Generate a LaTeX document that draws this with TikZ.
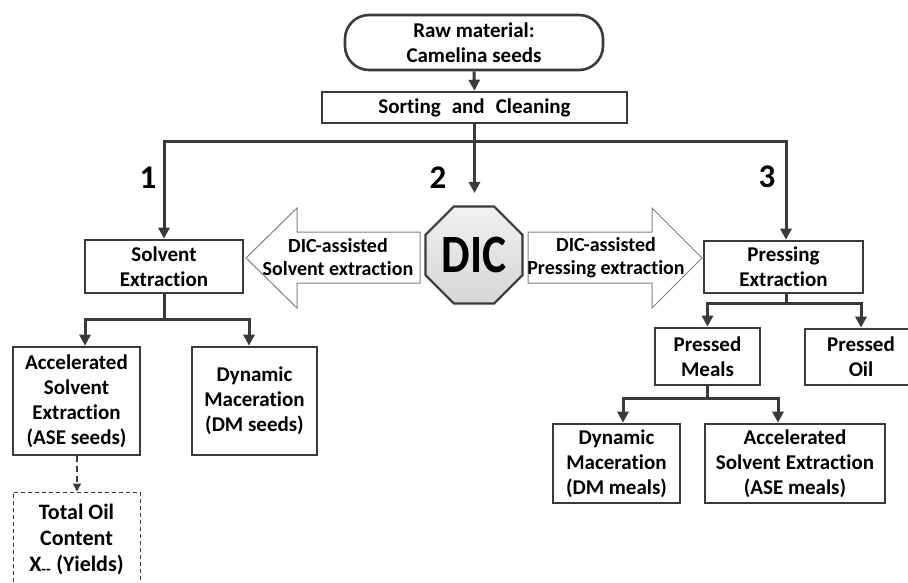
\documentclass[tikz,border=0pt]{standalone}
\usepackage{fontspec}
\setmainfont{Carlito}[Ligatures={NoCommon}]
\usetikzlibrary{arrows.meta,shapes.geometric,calc}
\definecolor{ln}{HTML}{3A3A3A}
\definecolor{ag}{HTML}{808080}
\begin{document}
\begin{tikzpicture}[x=1pt,y=-1pt,
  pbox/.style={draw=ln,line width=2.6pt,fill=white,align=center,inner sep=0pt,
    font=\bfseries\fontsize{21}{25}\selectfont},
  conn/.style={draw=ln,line width=3pt,line join=miter},
  arr/.style={conn,-{Triangle[length=11pt,width=11pt]}},
  numl/.style={font=\bfseries\fontsize{33}{33}\selectfont},
  harrow/.style={draw=ag,line width=1pt,fill=white,line join=miter},
  alab/.style={align=center,inner sep=0pt,font=\bfseries\fontsize{20}{23}\selectfont}]
\useasboundingbox (0,0) rectangle (908,583);
\fill[white] (0,0) rectangle (908,583);
% boxes
\node[pbox,rounded corners=24pt,minimum width=258pt,minimum height=55pt] (raw) at (474,42.5) {Raw material:\\Camelina seeds};
\node[pbox,minimum width=305pt,minimum height=31pt] (sort) at (474.5,107.5) {Sorting\hspace{0.3em} and\hspace{0.3em} Cleaning};
\node[pbox,minimum width=158pt,minimum height=53pt] (solv) at (164,266.5) {Solvent\\Extraction};
\node[pbox,minimum width=159pt,minimum height=52pt] (press) at (783.5,267) {Pressing\\Extraction};
\node[pbox,minimum width=127pt,minimum height=108pt] (ase) at (76.5,401) {Accelerated\\Solvent\\Extraction\\(ASE seeds)};
\node[pbox,minimum width=125pt,minimum height=108pt] (dms) at (254.5,401) {Dynamic\\Maceration\\(DM seeds)};
\node[pbox,minimum width=105pt,minimum height=57pt] (meals) at (707.5,356.5) {Pressed\\Meals};
\node[pbox,minimum width=112pt,minimum height=56pt] (oil) at (861,357) {Pressed\\Oil};
\node[pbox,minimum width=127pt,minimum height=79pt] (dmm) at (616.5,463.5) {Dynamic\\Maceration\\(DM meals)};
\node[pbox,minimum width=180pt,minimum height=79pt] (asem) at (795,463.5) {Accelerated\\Solvent Extraction\\(ASE meals)};
\node[pbox,draw=ln,line width=1pt,dash pattern=on 4pt off 3pt,minimum width=127pt,minimum height=94pt,
  font=\bfseries\fontsize{22}{26}\selectfont] (total) at (76.5,539) {Total Oil\\Content\\X\textsubscript{-{}-} (Yields)};
% DIC octagon
\node[regular polygon,regular polygon sides=8,minimum size=105pt,inner sep=0pt,
  draw=ln,line width=2.2pt,top color=gray!12,bottom color=gray!32,
  font=\bfseries\fontsize{54}{54}\selectfont] (dic) at (474,255) {\scalebox{0.84}[1]{DIC}};
% hollow arrows
\draw[harrow] (420,232) -- (297,232) -- (297,208) -- (246,258) -- (297,308) -- (297,283) -- (420,283) -- cycle;
\draw[harrow] (528,232) -- (652,232) -- (652,208) -- (702,258) -- (652,308) -- (652,283) -- (528,283) -- cycle;
\node[alab] (lsol) at (338,257.5) {DIC-assisted\\Solvent extraction};
\node[alab] (lpre) at (606,257.5) {DIC-assisted\\Pressing extraction};
% labels
\node[numl] (n1) at (148,178) {1};
\node[numl] (n2) at (438,178) {2};
\node[numl] (n3) at (767,177) {3};
% connectors
\coordinate (j) at (474.5,142);
\coordinate (c2) at (474.5,193);
\draw[arr] (raw.south) -- (sort.north);
\draw[conn] (sort.south) -- (j);
\draw[arr] (j) -| (solv.north);
\draw[arr] (j) -| ([xshift=2.5pt]press.north);
\draw[arr] (j) -- (c2);
\coordinate (s1) at (164,319);
\draw[conn] (solv.south) -- (s1);
\draw[arr] (s1) -| ([xshift=8.5pt]ase.north);
\draw[arr] (s1) -| ([xshift=-5.5pt]dms.north);
\coordinate (p1) at (786,303);
\draw[conn] ([xshift=2.5pt]press.south) -- (p1);
\draw[arr] (p1) -| (meals.north);
\draw[arr] (p1) -| (oil.north);
\coordinate (m1) at (707.5,398);
\draw[conn] (meals.south) -- (m1);
\draw[arr] (m1) -| ([xshift=6.5pt]dmm.north);
\draw[arr] (m1) -| ([xshift=-17pt]asem.north);
\draw[draw=ln,line width=1.6pt,dash pattern=on 6pt off 4pt,-{Triangle[length=8pt,width=8pt]}] ([xshift=0.5pt]ase.south) -- ([xshift=0.5pt]total.north);
\end{tikzpicture}
\end{document}
